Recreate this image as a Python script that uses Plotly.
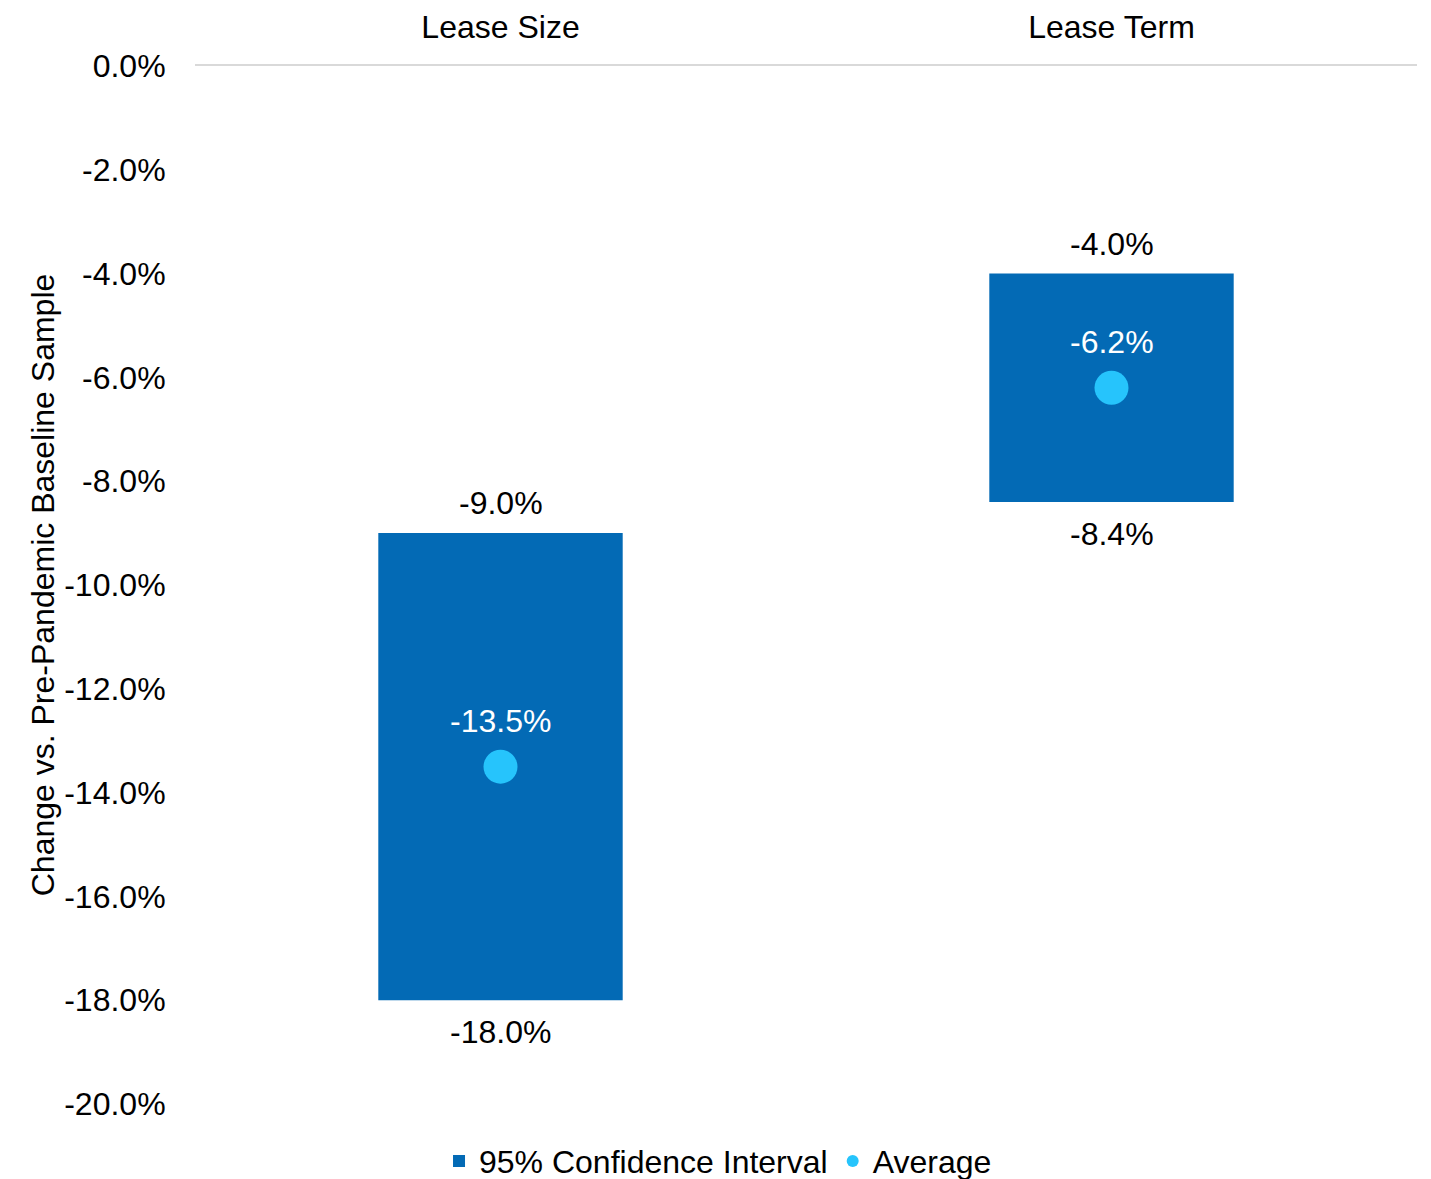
import plotly.graph_objects as go

CATEGORIES = ["Lease Size", "Lease Term"]
CI_HIGH = [-9.0, -4.0]
CI_LOW = [-18.0, -8.4]
AVERAGE = [-13.5, -6.2]
Y_TICKS = [0, -2, -4, -6, -8, -10, -12, -14, -16, -18, -20]

BAR_COLOR = "#036AB5"
DOT_COLOR = "#26C4FC"
FONT = "Liberation Sans, Arial, sans-serif"
SIZE = 32

fig = go.Figure()
fig.add_trace(
    go.Bar(
        x=CATEGORIES,
        y=[h - l for h, l in zip(CI_HIGH, CI_LOW)],
        base=CI_LOW,
        width=0.4,
        marker=dict(color=BAR_COLOR, line=dict(width=0)),
        name="95% Confidence Interval",
    )
)
fig.add_trace(
    go.Scatter(
        x=CATEGORIES,
        y=AVERAGE,
        mode="markers",
        marker=dict(color=DOT_COLOR, size=34),
        name="Average",
    )
)

# value labels: top / bottom of interval in black, average in white
annotations = []
for cat, hi, lo, avg in zip(CATEGORIES, CI_HIGH, CI_LOW, AVERAGE):
    annotations.append(dict(x=cat, y=hi, text=f"{hi:.1f}%", yshift=30,
                            font=dict(color="#000000")))
    annotations.append(dict(x=cat, y=lo, text=f"{lo:.1f}%", yshift=-32,
                            font=dict(color="#000000")))
    annotations.append(dict(x=cat, y=avg, text=f"{avg:.1f}%", yshift=46,
                            font=dict(color="#ffffff")))
for a in annotations:
    a.update(showarrow=False, xref="x", yref="y")
    a["font"].update(family=FONT, size=SIZE)

fig.update_layout(
    width=1431,
    height=1179,
    template="plotly_white",
    paper_bgcolor="white",
    plot_bgcolor="white",
    font=dict(family=FONT, size=SIZE, color="#000000"),
    margin=dict(l=195, r=14, t=66, b=75, autoexpand=False),
    annotations=annotations,
    showlegend=True,
    legend=dict(
        orientation="h",
        x=0.428,
        xanchor="center",
        y=-0.055,
        yanchor="middle",
        font=dict(size=SIZE),
        itemsizing="constant",
        entrywidth=0,
    ),
)
fig.update_xaxes(
    type="category",
    side="top",
    range=[-0.5, 1.5],
    automargin=False,
    showgrid=False,
    showline=True,
    linecolor="#D9D9D9",
    linewidth=2,
    ticks="outside",
    ticklen=13,
    tickcolor="rgba(0,0,0,0)",
    tickfont=dict(size=SIZE),
)
fig.update_yaxes(
    range=[-20, 0],
    automargin=False,
    tickvals=Y_TICKS,
    ticktext=[f"{v:.1f}%" for v in Y_TICKS],
    showgrid=False,
    zeroline=False,
    ticks="outside",
    ticklen=22,
    tickcolor="rgba(0,0,0,0)",
    tickfont=dict(size=SIZE),
    title=dict(text="Change vs. Pre-Pandemic Baseline Sample", font=dict(size=SIZE), standoff=0),
)

fig.write_html(
    "out.html",
    config={"displayModeBar": False},
    post_script="document.body.style.margin='0';",
)
